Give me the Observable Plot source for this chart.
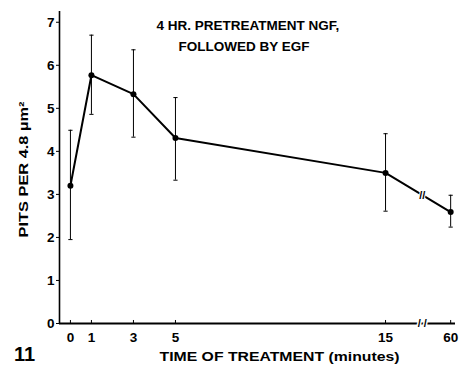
<!DOCTYPE html>
<html><head><meta charset="utf-8">
<script src="https://cdn.jsdelivr.net/npm/d3@7"></script>
<script src="https://cdn.jsdelivr.net/npm/@observablehq/plot@0.6"></script>
<style>
body{margin:0;background:#fff;}
#chart svg{font-family:"Liberation Sans",Arial,sans-serif;font-weight:bold;}
</style>
</head><body><div id="chart"></div>
<script>
// Data
const times = [0, 1, 3, 5, 15, 60];
const tickLabels = ["0", "1", "3", "5", "15", "60"];
const means = [3.20, 5.77, 5.33, 4.31, 3.50, 2.59];
const upper = [4.49, 6.70, 6.36, 5.25, 4.41, 2.98];
const lower = [1.95, 4.86, 4.33, 3.33, 2.61, 2.24];
const yTicks = [0, 1, 2, 3, 4, 5, 6, 7];
const titleLines = ["4 HR. PRETREATMENT NGF,", "FOLLOWED BY EGF"];
const yLabel = "PITS PER 4.8 \u00B5m\u00B2";
const xLabel = "TIME OF TREATMENT (minutes)";
const figNumber = "11";

// broken axis: 60 min drawn just past the break after 15 min
const brokenAxisPos = {60: 18.1};
const breakPos = [16.75];
const xDomain = [-0.52, 18.33];
const yDomain = [0, 7.25];

const pos = t => brokenAxisPos[t] ?? t;
const data = times.map((t, i) => ({t, x: pos(t), mean: means[i], hi: upper[i], lo: lower[i], label: tickLabels[i]}));
const breakOnLine = breakPos.map(b => {
  const a = data[4], c = data[5];
  return {x: b, y: a.mean + (c.mean - a.mean) * (b - a.x) / (c.x - a.x)};
});

const chart = Plot.plot({
  width: 461, height: 373,
  marginLeft: 59, marginRight: 6, marginTop: 11, marginBottom: 50,
  x: {domain: xDomain, axis: null},
  y: {domain: yDomain, axis: null},
  style: {fontFamily: "'Liberation Sans', Arial, sans-serif", fontWeight: "bold", background: "white"},
  marks: [
    Plot.ruleX([xDomain[0]], {stroke: "black", strokeWidth: 1.6}),
    Plot.ruleY([0], {stroke: "black", strokeWidth: 2}),
    Plot.axisY(yTicks, {tickSize: 3, tickPadding: 2, fontSize: 13.5, fontWeight: "bold", label: null, stroke: "black", color: "black"}),
    Plot.ruleX(data, {x: "x", y1: 0, y2: 0.07, stroke: "black", strokeWidth: 1}),
    Plot.text(data, {x: "x", y: 0, text: "label", dy: 14, fontSize: 13.5, fontWeight: "bold", fill: "black"}),
    // error bars
    Plot.ruleX(data, {x: "x", y1: "lo", y2: "hi", stroke: "black", strokeWidth: 1}),
    Plot.link(data, {x1: d => d.x - 0.1, x2: d => d.x + 0.1, y1: "hi", y2: "hi", stroke: "black", strokeWidth: 1}),
    Plot.link(data, {x1: d => d.x - 0.1, x2: d => d.x + 0.1, y1: "lo", y2: "lo", stroke: "black", strokeWidth: 1}),
    Plot.line(data, {x: "x", y: "mean", stroke: "black", strokeWidth: 2}),
    Plot.dot(data, {x: "x", y: "mean", r: 3, fill: "black", stroke: "none"}),
    // break marks
    Plot.text(breakPos, {x: d => d, y: 0, text: () => "/ /", fontSize: 11, fontWeight: "bold", fill: "black", stroke: "white", strokeWidth: 3}),
    Plot.text(breakOnLine, {x: "x", y: "y", text: () => "//", fontSize: 11, fontWeight: "bold", fill: "black", stroke: "white", strokeWidth: 2}),
    // titles and labels
    Plot.text([titleLines[0]], {frameAnchor: "top-left", dx: 97, dy: 8.5, textAnchor: "start", fontSize: 13.5, fontWeight: "bold", fill: "black"}),
    Plot.text([titleLines[1]], {frameAnchor: "top-left", dx: 119, dy: 29.5, textAnchor: "start", fontSize: 13.5, fontWeight: "bold", fill: "black"}),
    Plot.text([yLabel], {frameAnchor: "left", rotate: -90, textAnchor: "middle", dx: -36, dy: 2, fontSize: 13, fontWeight: "bold", fill: "black"}),
    Plot.text([xLabel], {frameAnchor: "bottom", textAnchor: "middle", dx: 22, dy: 37, fontSize: 13.5, fontWeight: "bold", fill: "black"}),
    Plot.text([figNumber], {frameAnchor: "bottom-left", textAnchor: "middle", dx: -35, dy: 37, fontSize: 20, fontWeight: "bold", fill: "black"})
  ]
});
// widen the lettering of the long labels to the reference's heavy, wide face
const widths = {[xLabel]: 240, [yLabel]: 136};
d3.select(chart).selectAll("text").each(function() {
  const w = widths[this.textContent];
  if (w) d3.select(this).attr("textLength", w).attr("lengthAdjust", "spacingAndGlyphs");
});
document.getElementById("chart").appendChild(chart);
</script>
</body></html>
